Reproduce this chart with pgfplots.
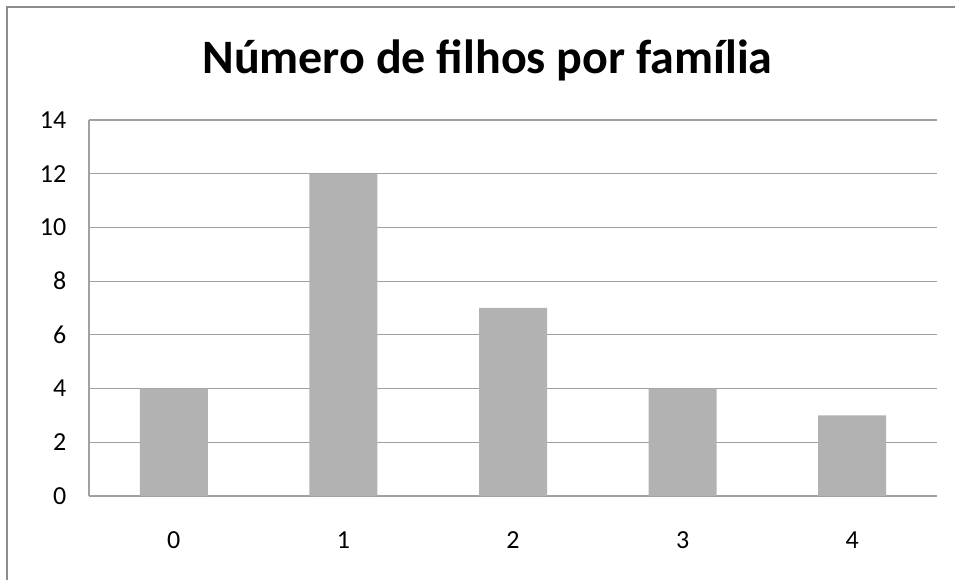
\documentclass[border=0pt]{standalone}
\usepackage{fontspec}
\setmainfont{Carlito}
\usepackage{pgfplots}
\pgfplotsset{compat=1.18}
\definecolor{bargray}{RGB}{178,178,178}
\definecolor{gridgray}{RGB}{160,160,160}
\definecolor{framegray}{RGB}{140,140,140}
\begin{document}
\begin{tikzpicture}
\useasboundingbox (0pt,0pt) rectangle (716.25pt,-435pt);
\draw[framegray, line width=1.1pt] (5.25pt,-440pt) -- (5.25pt,-5.25pt) -- (720pt,-5.25pt);
\node[font=\fontsize{36}{43}\selectfont\bfseries] at (365.6pt,-45pt) {Número de filhos por família};
\begin{axis}[
  at={(66.75pt,-372pt)}, anchor=south west,
  scale only axis, width=636pt, height=282pt,
  xmin=-0.5, xmax=4.5, ymin=0, ymax=14,
  xtick={0,1,2,3,4}, ytick={0,2,4,6,8,10,12,14},
  axis x line*=bottom, axis y line*=left,
  axis line style={gridgray, line width=0.8pt, -},
  ymajorgrids, grid style={gridgray, line width=0.8pt},
  major tick length=0pt,
  /pgf/number format/assume math mode=true,
  tick label style={font=\fontsize{19.5}{23}\selectfont},
  x tick label style={anchor=base, yshift=-39pt},
  y tick label style={anchor=east, xshift=-13.5pt},
  clip=false,
]
\addplot[ybar, bar width=51pt, fill=bargray, draw=none] coordinates {(0,4) (1,12) (2,7) (3,4) (4,3)};
\end{axis}
\end{tikzpicture}
\end{document}
